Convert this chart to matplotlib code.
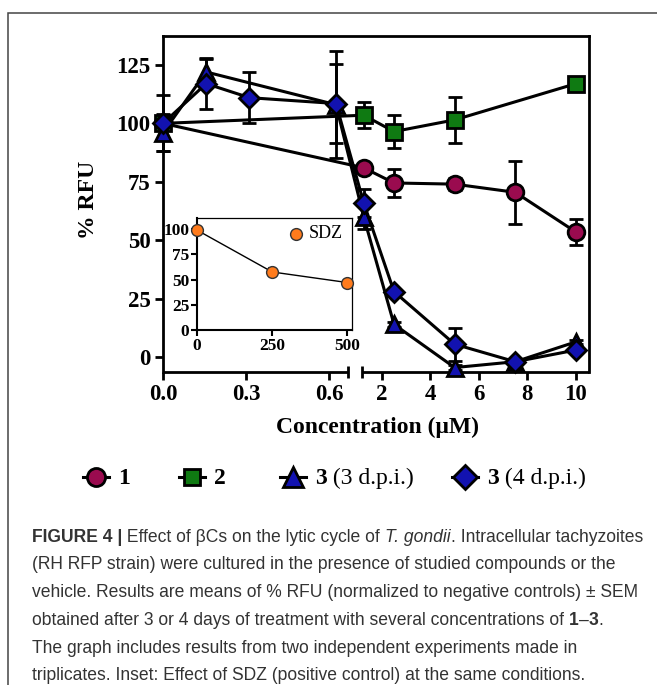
import numpy as np
import matplotlib
matplotlib.use("Agg")
import matplotlib.pyplot as plt
from matplotlib import font_manager
from matplotlib.lines import Line2D
from matplotlib.patches import Rectangle
from matplotlib.ticker import FixedLocator, FixedFormatter

W, H = 657, 685

# values (% RFU, mean and SEM)
conc_1 = [0, 1.25, 2.5, 5, 7.5, 10]
rfu_1 = [100, 81, 74.5, 74, 70.5, 53.5]
sem_1 = [0, 2, 6, 2.5, 13.5, 5.5]

conc_2 = [0, 1.25, 2.5, 5, 10]
rfu_2 = [100, 103.5, 96.5, 101.5, 117]
sem_2 = [0, 5.5, 7, 10, 1]

conc_3a = [0, 0.156, 0.625, 1.25, 2.5, 5, 7.5, 10]
rfu_3a = [96, 122, 108, 60, 14, -4.5, -2, 6.5]
sem_3a = [8, 5.5, 23, 5, 1, 1, 1, 1]

conc_3b = [0, 0.156, 0.3125, 0.625, 1.25, 2.5, 5, 7.5, 10]
rfu_3b = [100, 117, 111, 108.5, 66, 28, 5.5, -2, 3]
sem_3b = [12, 11, 11, 17, 6, 1, 7, 1, 1]

sdz_conc = [0, 250, 500]
sdz_rfu = [99, 57.5, 47]
sdz_sem = [3, 4, 1]

x_ticks = [0, 0.3, 0.6, 2, 4, 6, 8, 10]
x_labels = ["0.0", "0.3", "0.6", "2", "4", "6", "8", "10"]
y_ticks = [0, 25, 50, 75, 100, 125]

c_1 = "#9a0b4f"
c_2 = "#0f7a12"
c_3 = "#1212b0"
c_sdz = "#ff7b1c"

serif = "Liberation Serif"
names = {f.name for f in font_manager.fontManager.ttflist}
cap_font = "Liberation Sans Narrow" if "Liberation Sans Narrow" in names else "Liberation Sans"

fig = plt.figure(figsize=(W / 100, H / 100), dpi=100)


def fx(x):
    return x / W


def fy(y):
    return 1 - y / H


# broken x axis: 0-0.67 on the left, 1.18-10.54 on the right
XB = [-100, 0, 0.67, 1.18, 10.54, 100]
UB = [-27667, 0, 185.4, 199, 426, 426 + 89.46 * 24.25]


def fwd(x):
    return np.interp(x, XB, UB)


def inv(u):
    return np.interp(u, UB, XB)


ax = fig.add_axes([fx(163), fy(372), 426 / W, 336 / H])
ax.set_xscale("function", functions=(fwd, inv))
ax.set_xlim(0, 10.54)
ax.set_ylim(-6.4, 137.4)

for s in ["left", "top", "right"]:
    ax.spines[s].set_linewidth(2.0)
ax.spines["bottom"].set_visible(False)
xt = ax.get_xaxis_transform()
ax.plot([0, 0.67], [0, 0], color="k", lw=2.0, transform=xt, clip_on=False, solid_capstyle="butt")
ax.plot([1.18, 10.54], [0, 0], color="k", lw=2.0, transform=xt, clip_on=False, solid_capstyle="butt")
ax.plot([0.67, 1.18], [0, 0], ls="none", marker="|", ms=9, mew=2.0, color="k", transform=xt, clip_on=False)

ax.xaxis.set_major_locator(FixedLocator(x_ticks))
ax.xaxis.set_major_formatter(FixedFormatter(x_labels))
ax.xaxis.set_minor_locator(FixedLocator([]))
ax.set_yticks(y_ticks)
ax.tick_params(direction="out", length=6, width=2, pad=3, labelsize=16.5)
for lab in ax.get_xticklabels() + ax.get_yticklabels():
    lab.set_family(serif)
    lab.set_weight("bold")

series = [
    (conc_1, rfu_1, sem_1, "o", c_1, 12),
    (conc_2, rfu_2, sem_2, "s", c_2, 11),
    (conc_3a, rfu_3a, sem_3a, "^", c_3, 12),
    (conc_3b, rfu_3b, sem_3b, "D", c_3, 10.5),
]
for i, (xs, ys, es, m, c, ms) in enumerate(series):
    ax.errorbar(xs, ys, yerr=es, fmt="none", ecolor="k", elinewidth=2,
                capsize=5, capthick=2, zorder=2 + i * 0.1, clip_on=False)
for i, (xs, ys, es, m, c, ms) in enumerate(series):
    ax.plot(xs, ys, color="k", lw=2.2, marker=m, ms=ms, mfc=c, mec="k",
            mew=2, zorder=3 + i * 0.1, clip_on=False)

fig.text(fx(88), fy(200), "% RFU", rotation=90, ha="center", va="center",
         family=serif, weight="bold", fontsize=17)
fig.text(fx(377), fy(427), "Concentration (\u03bcM)", ha="center", va="center",
         family=serif, weight="bold", fontsize=17)

# inset with the positive control
axi = fig.add_axes([fx(197), fy(330), 155 / W, 112 / H])
axi.set_xlim(0, 515)
axi.set_ylim(0, 111)
axi.errorbar(sdz_conc, sdz_rfu, yerr=sdz_sem, fmt="none", ecolor="#333333",
             elinewidth=1.5, capsize=3, capthick=1.5)
axi.plot(sdz_conc, sdz_rfu, color="k", lw=1, marker="o", ms=8.5,
         mfc=c_sdz, mec="#333333", mew=1, clip_on=False, zorder=3)
axi.set_xticks([0, 250, 500])
axi.set_yticks([0, 25, 50, 75, 100])
axi.tick_params(direction="out", length=4, width=1.5, pad=1.5, labelsize=12.5)
for lab in axi.get_xticklabels() + axi.get_yticklabels():
    lab.set_family(serif)
    lab.set_weight("bold")
for s in ["left", "bottom"]:
    axi.spines[s].set_linewidth(1.5)
for s in ["top", "right"]:
    axi.spines[s].set_linewidth(0.9)
axi.plot([0.64], [0.86], transform=axi.transAxes, marker="o", ms=8.5,
         mfc=c_sdz, mec="#333333", mew=1, ls="none")
axi.text(0.72, 0.86, "SDZ", transform=axi.transAxes, va="center", ha="left",
         family=serif, fontsize=13)

renderer = fig.canvas.get_renderer()


def advance(text, **kw):
    t1 = fig.text(0, 0, text + "x", **kw)
    t2 = fig.text(0, 0, "x", **kw)
    w = t1.get_window_extent(renderer).width - t2.get_window_extent(renderer).width
    t1.remove()
    t2.remove()
    return w


def draw_segments(segs, x, y, size, family, color="k", va="center"):
    for text, weight, style in segs:
        kw = dict(fontsize=size, weight=weight, style=style, family=family, color=color)
        fig.text(fx(x), fy(y), text, ha="left", va=va, **kw)
        x += advance(text, **kw)
    return x


# legend row
legend_items = [
    (96, "o", c_1, 13, [("1", "bold", "normal")]),
    (192, "s", c_2, 12, [("2", "bold", "normal")]),
    (293, "^", c_3, 14, [("3", "bold", "normal"), (" (3 d.p.i.)", "normal", "normal")]),
    (465, "D", c_3, 12, [("3", "bold", "normal"), (" (4 d.p.i.)", "normal", "normal")]),
]
ly = 477
for x, m, c, ms, segs in legend_items:
    fig.add_artist(Line2D([fx(x - 13), fx(x + 13)], [fy(ly), fy(ly)], color="k", lw=2.2,
                          transform=fig.transFigure))
    fig.add_artist(Line2D([fx(x)], [fy(ly)], marker=m, ms=ms, mfc=c, mec="k", mew=2,
                          ls="none", transform=fig.transFigure))
    draw_segments(segs, x + 22, ly + 1, 17, serif)

# caption
caption = [
    [("FIGURE 4 |", "bold", "normal"), (" Effect of \u03b2Cs on the lytic cycle of ", "normal", "normal"),
     ("T. gondii", "normal", "italic"), (". Intracellular tachyzoites", "normal", "normal")],
    [("(RH RFP strain) were cultured in the presence of studied compounds or the", "normal", "normal")],
    [("vehicle. Results are means of % RFU (normalized to negative controls) \u00b1 SEM", "normal", "normal")],
    [("obtained after 3 or 4 days of treatment with several concentrations of ", "normal", "normal"),
     ("1", "bold", "normal"), ("\u2013", "normal", "normal"), ("3", "bold", "normal"), (".", "normal", "normal")],
    [("The graph includes results from two independent experiments made in", "normal", "normal")],
    [("triplicates. Inset: Effect of SDZ (positive control) at the same conditions.", "normal", "normal")],
]
ref = 10.0
w_ref = sum(advance(t, fontsize=ref, weight=wt, style=st, family=cap_font) for t, wt, st in caption[0])
cap_size = ref * (647 - 32) / w_ref
for k, segs in enumerate(caption):
    draw_segments(segs, 32, 537 + 27.8 * k, cap_size, cap_font, color="#333333")

fig.add_artist(Rectangle((fx(8), -0.2), 1.2, fy(13) + 0.2, transform=fig.transFigure,
                         fill=False, ec="#444444", lw=1.1))

fig.savefig("out.png", dpi=100)
